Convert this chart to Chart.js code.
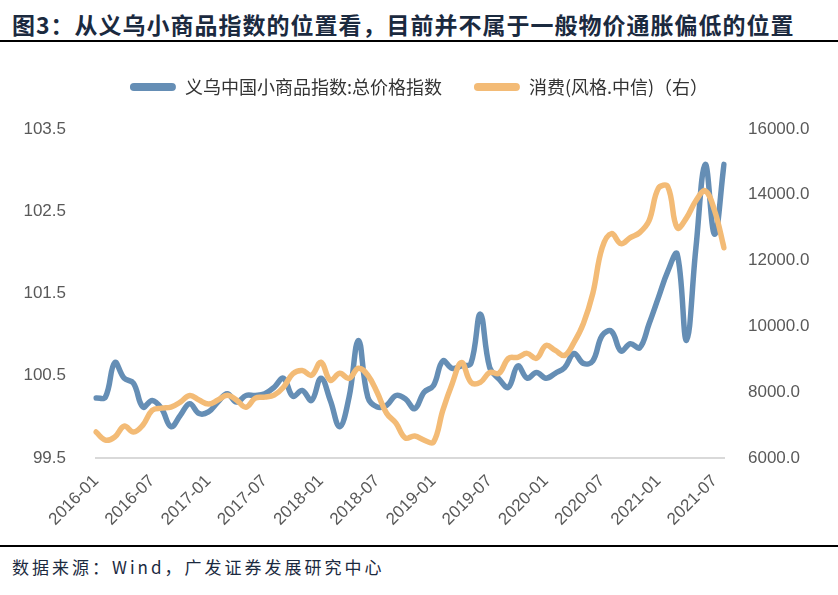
<!DOCTYPE html>
<html lang="zh">

<head>
    <meta charset="UTF-8">
    <title>义乌小商品指数与消费风格指数</title>
    <script src="https://cdn.jsdelivr.net/npm/chart.js@4.4.1/dist/chart.umd.min.js"></script>
    <style>
        body { margin: 0; background: #fff; width: 838px; height: 595px; position: relative; overflow: hidden; }
        #title { position: absolute; left: 12px; top: 7px; font: bold 23px "Noto Sans CJK SC"; letter-spacing: 1px; color: #1b2a3f; white-space: nowrap; }
        .rule { position: absolute; left: 0; width: 838px; height: 2px; background: #000; }
        #chartBox { position: absolute; left: 0; top: 46px; }
        #source { position: absolute; left: 12px; top: 554px; font: 17px "Noto Sans CJK SC"; letter-spacing: 3px; color: #1b2a3f; white-space: nowrap; }
    </style>
</head>

<body>
    <div id="title">图3：从义乌小商品指数的位置看，目前并不属于一般物价通胀偏低的位置</div>
    <div class="rule" style="top:40px"></div>
    <div id="chartBox"><canvas id="chart" width="838" height="490"></canvas></div>
    <div class="rule" style="top:545px"></div>
    <div id="source">数据来源：Wind，广发证券发展研究中心</div>

    <script>
        // monthly, 2016-01 .. 2021-08
        const months = [];
        for (let y = 2016; y <= 2021; y++) {
            for (let m = 1; m <= 12; m++) {
                if (y == 2021 && m > 8) break;
                months.push(y + "-" + String(m).padStart(2, "0"));
            }
        }

        const yiwuIndex = [
            100.23, 100.24, 100.66, 100.47, 100.41, 100.12, 100.20, 100.10, 99.88, 100.02, 100.16, 100.04,
            100.06, 100.18, 100.28, 100.18, 100.26, 100.26, 100.28, 100.36, 100.47, 100.25, 100.32, 100.20,
            100.47, 100.20, 99.88, 100.24, 100.93, 100.24, 100.12, 100.14, 100.26, 100.22, 100.10, 100.30,
            100.38, 100.68, 100.59, 100.62, 100.65, 101.25, 100.60, 100.46, 100.36, 100.62, 100.47, 100.54,
            100.47, 100.53, 100.60, 100.77, 100.65, 100.68, 100.99, 101.04, 100.80, 100.89, 100.84, 101.13,
            101.45, 101.77, 101.98, 100.93, 102.05, 103.07, 102.22, 103.07
        ];

        const consumerStyle = [
            6790, 6545, 6640, 6970, 6790, 7000, 7450, 7515, 7545, 7700, 7900, 7760,
            7640, 7760, 7910, 7760, 7545, 7820, 7850, 7910, 8150, 8560, 8660, 8515,
            8910, 8360, 8575, 8420, 8730, 8515, 7990, 7360, 7060, 6610, 6670, 6545,
            6480, 7450, 8260, 8900, 8300, 8300, 8600, 8575, 9030, 9060, 9180, 9030,
            9420, 9270, 9120, 9515, 10090, 11000, 12390, 12820, 12515, 12700, 12850, 13210,
            14200, 14250, 13000, 13300, 13820, 14120, 13515, 12390
        ];

        const leftTicks = { min: 99.5, max: 103.5, step: 1 };
        const rightTicks = { min: 6000, max: 16000, step: 2000 };

        const BLUE = "#658eb5";
        const ORANGE = "#f3bb76";
        const tickFont = { family: "Liberation Sans", size: 17 };

        // extra room under the legend, chart.js has no option for it
        const legendGap = {
            id: "legendGap",
            afterInit(c) {
                const fit = c.legend.fit;
                c.legend.fit = function () {
                    fit.call(this);
                    this.height += 23;
                };
            }
        };

        const chart = new Chart(document.getElementById("chart"), {
            type: "line",
            data: {
                labels: months,
                datasets: [
                    {
                        label: "义乌中国小商品指数:总价格指数",
                        data: yiwuIndex,
                        yAxisID: "yL",
                        borderColor: BLUE,
                        backgroundColor: BLUE,
                        order: 1
                    },
                    {
                        label: "消费(风格.中信)（右）",
                        data: consumerStyle,
                        yAxisID: "yR",
                        borderColor: ORANGE,
                        backgroundColor: ORANGE,
                        order: 0
                    }
                ]
            },
            options: {
                responsive: false,
                animation: false,
                layout: { padding: 0 },
                elements: {
                    point: { radius: 0 },
                    line: { borderWidth: 5.5, tension: 0.4, borderCapStyle: "round", borderJoinStyle: "round" }
                },
                plugins: {
                    tooltip: { enabled: false },
                    legend: {
                        position: "top",
                        labels: {
                            boxWidth: 46,
                            boxHeight: 8,
                            padding: 32,
                            color: "#333",
                            font: { family: "Noto Sans CJK SC", size: 18 },
                            useBorderRadius: true,
                            generateLabels: c => c.data.datasets.map((ds, i) => ({
                                text: ds.label,
                                fillStyle: ds.borderColor,
                                strokeStyle: ds.borderColor,
                                lineWidth: 0,
                                borderRadius: 4,
                                fontColor: "#333",
                                datasetIndex: i
                            }))
                        }
                    }
                },
                scales: {
                    x: {
                        offset: false,
                        grid: { display: false },
                        border: { display: true, color: "#d9d9d9", width: 2 },
                        ticks: {
                            autoSkip: false,
                            minRotation: 45,
                            maxRotation: 45,
                            padding: 5,
                            color: "#595959",
                            font: tickFont,
                            callback: (v, i) => i % 6 == 0 ? months[i] : ""
                        },
                        afterFit: s => { s.height = 78; }
                    },
                    yL: {
                        position: "left",
                        min: leftTicks.min,
                        max: leftTicks.max,
                        grid: { display: false },
                        border: { display: false },
                        ticks: {
                            stepSize: leftTicks.step,
                            padding: 22,
                            color: "#595959",
                            font: tickFont,
                            callback: v => v.toFixed(1)
                        },
                        afterFit: s => { s.width = 96; }
                    },
                    yR: {
                        position: "right",
                        min: rightTicks.min,
                        max: rightTicks.max,
                        grid: { display: false },
                        border: { display: false },
                        ticks: {
                            stepSize: rightTicks.step,
                            padding: 16,
                            color: "#595959",
                            font: tickFont,
                            callback: v => v.toFixed(1)
                        },
                        afterFit: s => { s.width = 114; }
                    }
                }
            },
            plugins: [legendGap]
        });
    </script>
</body>

</html>
